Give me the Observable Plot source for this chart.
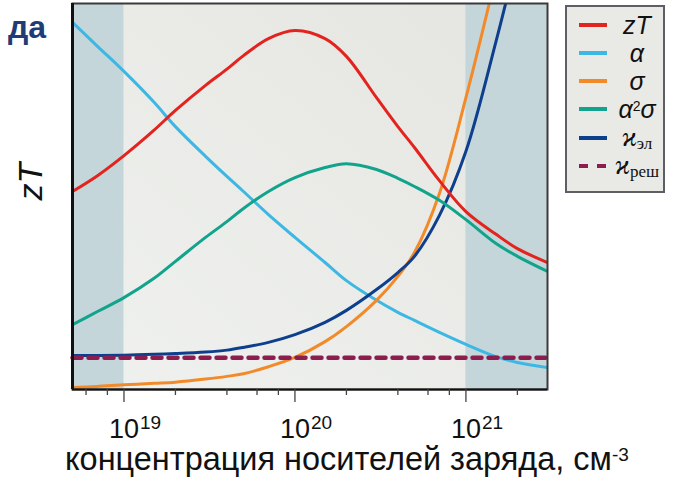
<!DOCTYPE html>
<html><head><meta charset="utf-8">
<script src="https://cdn.jsdelivr.net/npm/d3@7"></script>
<script src="https://cdn.jsdelivr.net/npm/@observablehq/plot@0.6"></script>
<style>
body{margin:0;background:#fff;font-family:"Liberation Sans",Arial,sans-serif;}
#wrap{position:relative;width:673px;height:482px;overflow:hidden;}
#wrap svg{position:absolute;left:0;top:0;}
#legend{position:absolute;left:565px;top:5px;width:96px;height:184px;background:#e9eae6;border:2px solid #5c6066;}
.sw{position:absolute;left:12px;width:28px;height:4px;}
.lab{position:absolute;left:70px;transform:translate(-50%,-50%);line-height:1;white-space:nowrap;color:#111;}
.it{font-style:italic;font-size:25px;}
.kap{font-family:"Liberation Serif","DejaVu Serif",serif;font-style:italic;font-size:27px;}
.kap sub{font-style:normal;font-size:17px;vertical-align:-3px;}
#title{position:absolute;left:65px;top:443px;font-size:31px;line-height:1;white-space:nowrap;color:#111;}
#title span{font-size:19px;vertical-align:9px;}
#da{position:absolute;right:627px;top:11px;font-size:32px;font-weight:bold;line-height:1;color:#1d3c78;}
</style></head><body><div id="wrap"></div>
<script>
// carrier concentration, cm^-3
const conc = [5e18, 7e18, 1e19, 1.5e19, 2e19, 3e19, 4e19, 5e19, 7e19, 1e20, 1.5e20, 2e20, 3e20, 4e20, 5e20, 7e20, 1e21, 1.5e21, 2e21, 3e21];
// curves, arbitrary units (0..100 of the plot height)
const zT          = [51.3, 55.4, 60.6, 67.2, 72.3, 78.8, 83.0, 86.5, 90.9, 93.0, 90.9, 86.3, 75.6, 68.1, 62.7, 54.1, 46.1, 40.2, 36.5, 32.9];
const alpha       = [95.1, 88.9, 82.4, 74.4, 68.1, 60.4, 55.2, 51.3, 45.3, 39.4, 32.9, 28.2, 23.1, 20.0, 17.9, 14.8, 11.7, 8.5, 7.0, 5.7];
const sigma       = [0.5, 0.8, 1.2, 1.6, 1.9, 2.7, 3.4, 4.1, 5.9, 8.3, 12.4, 16.3, 23.1, 29.3, 35.5, 50.8, 75.6, 107.3];
const powerFactor = [16.8, 20.2, 23.8, 28.8, 33.2, 39.4, 43.5, 46.9, 51.3, 54.9, 57.5, 58.5, 57.0, 54.7, 52.6, 49.0, 44.0, 37.8, 34.5, 30.6];
const kappaEl     = [8.8, 8.8, 8.9, 9.1, 9.3, 9.7, 10.2, 10.9, 12.2, 14.2, 17.4, 20.5, 25.9, 30.3, 34.5, 45.1, 61.7, 90.2, 112.4];
const kappaLatX   = [5e18, 3e21];
const kappaLat    = [8.2, 8.2];
// axis
const decades = [1e19, 1e20, 1e21];
const decadeExp = ["19", "20", "21"];
const minorTicks = [6e18, 8e18, 2e19, 4e19, 6e19, 8e19, 2e20, 4e20, 6e20, 8e20, 2e21];
const shadedFrom = [5e18, 1e21];
const shadedTo = [1e19, 3e21];

const colors = {zT:"#e3231e", alpha:"#3db7e4", sigma:"#f28a2a", pf:"#11a38b", kel:"#0e3f8d", klat:"#8b1d4f"};
const rows = (xs, ys) => ys.map((y, i) => ({x: xs[i], y}));
const shaded = shadedFrom.map((a, i) => ({a, b: shadedTo[i]}));
const lineOpts = (c) => ({x:"x", y:"y", stroke:c, strokeWidth:3, curve:"catmull-rom", clip:true});

// gradient definition for the plot background
const bgDefs = () => {
  const defs = d3.create("svg:defs");
  const g = defs.append("linearGradient").attr("id", "bg").attr("x1", "0").attr("y1", "1").attr("x2", "1").attr("y2", "0");
  g.append("stop").attr("offset", "0").attr("stop-color", "#eff1ef");
  g.append("stop").attr("offset", "0.55").attr("stop-color", "#eaebe7");
  g.append("stop").attr("offset", "1").attr("stop-color", "#e4e5e1");
  return defs.node();
};

const chart = Plot.plot({
  width: 673, height: 482,
  marginLeft: 72, marginRight: 126, marginTop: 3, marginBottom: 93,
  style: {background:"transparent", fontFamily:"Liberation Sans, Arial, sans-serif", color:"#111"},
  x: {type:"log", domain:[5e18, 3e21]},
  y: {domain:[0, 100], axis:null},
  marks: [
    bgDefs,
    Plot.frame({fill:"url(#bg)"}),
    Plot.rect(shaded, {x1:"a", x2:"b", fill:"#c5d6da"}),
    Plot.line(rows(conc, alpha), lineOpts(colors.alpha)),
    Plot.line(rows(conc, sigma), lineOpts(colors.sigma)),
    Plot.line(rows(conc, kappaEl), lineOpts(colors.kel)),
    Plot.line(rows(conc, powerFactor), lineOpts(colors.pf)),
    Plot.line(rows(conc, zT), lineOpts(colors.zT)),
    Plot.line(rows(kappaLatX, kappaLat), {x:"x", y:"y", stroke:colors.klat, strokeWidth:4.5, strokeDasharray:"9 7"}),
    Plot.frame({stroke:"#3a3a3a", strokeWidth:2}),
    Plot.ruleX([5e18], {stroke:"#111", strokeWidth:3}),
    Plot.ruleY([0], {stroke:"#111", strokeWidth:2}),
    Plot.axisX(minorTicks, {tickSize:6, tickFormat:() => "", label:null, stroke:"#444", strokeWidth:1.3}),
    Plot.axisX(decades, {tickSize:13, tickFormat:() => "", label:null, stroke:"#444", strokeWidth:1.3}),
    Plot.text(decades, {x:d => d, text:() => "10", frameAnchor:"bottom", textAnchor:"end", lineAnchor:"bottom", dx:15, dy:48, fontSize:27, fill:"#111"}),
    Plot.text(decades, {x:d => d, text:(d, i) => decadeExp[i], frameAnchor:"bottom", textAnchor:"start", lineAnchor:"bottom", dx:16, dy:39, fontSize:19, fill:"#111"}),
    Plot.text(["zT"], {text:d => d, frameAnchor:"left", rotate:-90, dx:-41, dy:-15, fontSize:34, fontStyle:"italic", textAnchor:"middle", lineAnchor:"middle", fill:"#111"})
  ]
});

const wrap = document.getElementById("wrap");
wrap.appendChild(chart);

const legendItems = [
  {html:'<span class="it">zT</span>', color:colors.zT, y:18},
  {html:'<span class="it">α</span>', color:colors.alpha, y:46},
  {html:'<span class="it">σ</span>', color:colors.sigma, y:74},
  {html:'<span class="it">α<sup style="font-size:14px;vertical-align:7px;font-style:normal">2</sup>σ</span>', color:colors.pf, y:102},
  {html:'<span class="kap">ϰ<sub>эл</sub></span>', color:colors.kel, y:131},
  {html:'<span class="kap">ϰ<sub>реш</sub></span>', color:colors.klat, y:159, dashed:true}
];
const lg = document.createElement("div");
lg.id = "legend";
for (const it of legendItems) {
  const sw = document.createElement("div");
  sw.className = "sw";
  sw.style.top = (it.y - 2) + "px";
  sw.style.background = it.dashed ? `repeating-linear-gradient(to right, ${it.color} 0 9px, transparent 9px 18px)` : it.color;
  lg.appendChild(sw);
  const lb = document.createElement("div");
  lb.className = "lab";
  lb.style.top = it.y + "px";
  lb.innerHTML = it.html;
  lg.appendChild(lb);
}
wrap.appendChild(lg);

const title = document.createElement("div");
title.id = "title";
title.innerHTML = '<b style="font-weight:normal">концентрация носителей заряда, см</b><span>-3</span>';
wrap.appendChild(title);
// fit the main title text to the width it has in the reference (65 → 612 px)
const mainPart = title.querySelector("b");
const w = mainPart.getBoundingClientRect().width;
title.style.fontSize = (31 * 547 / w).toFixed(2) + "px";

const da = document.createElement("div");
da.id = "da";
da.textContent = "да";
wrap.appendChild(da);
</script>
</body></html>
